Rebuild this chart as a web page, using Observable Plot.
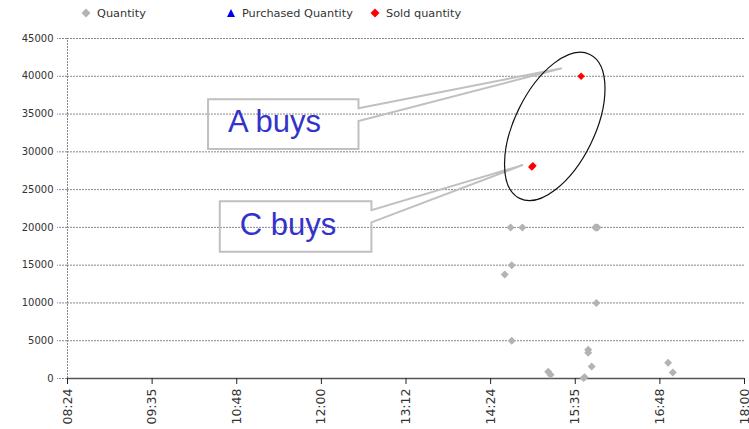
<!DOCTYPE html>
<html><head><meta charset="utf-8">
<script src="https://cdn.jsdelivr.net/npm/d3@7"></script>
<script src="https://cdn.jsdelivr.net/npm/@observablehq/plot@0.6"></script>
<style>
body{margin:0;background:#fff;font-family:"DejaVu Sans",sans-serif;}
#legend{position:relative;height:28px;width:749px;font-size:11.3px;color:#333;}
.item{position:absolute;top:6px;height:14px;display:flex;align-items:center;}
.item svg{margin-right:6px;}
</style></head><body>
<div id="legend"></div>
<div id="chart"></div>
<script>
// ---- data ----
const tickTimes = ["08:24","09:36","10:48","12:00","13:12","14:24","15:36","16:48","18:00"];
const tickLabels = ["08:24","09:35","10:48","12:00","13:12","14:24","15:35","16:48","18:00"];
const yTicks = [0,5000,10000,15000,20000,25000,30000,35000,40000,45000];

const quantityTimes  = ["14:41","14:51","15:53","15:54","15:55","14:42","14:36","15:54","14:42","15:47","15:47","15:50","15:13","15:15","15:44","15:43","16:55","16:59"];
const quantityValues = [20000, 20000, 20000, 20000, 20000, 15000, 13750, 10000, 5000, 3800, 3400, 1600, 900, 500, 150, 50, 2100, 800];

const purchasedTimes  = [];
const purchasedValues = [];

const soldTimes  = ["14:59","15:00","15:41"];
const soldValues = [28000, 28150, 40000];

const seriesNames  = ["Quantity","Purchased Quantity","Sold quantity"];
const seriesColors = ["#b3b3b3","#0000ee","#ff0000"];

// annotations (data units: minutes since midnight, quantity)
const calloutA = {text:"A buys", left:624, right:752, top:36900, bottom:30300, w1:35700, w2:34000, tipX:925, tipY:41000, textX:641, textY:32600};
const calloutC = {text:"C buys", left:634, right:763, top:23400, bottom:16700, w1:22200, w2:20600, tipX:892, tipY:28200, textX:651, textY:18950};
const ellipseSpec = {cx:919, cy:33300, rxMin:34, ryVal:10600, angle:26};

// ---- helpers ----
const toMin = s => { const [h,m] = s.split(":").map(Number); return h*60+m; };
const quantity  = quantityTimes.map((t,i)=>({t:toMin(t), v:quantityValues[i]}));
const purchased = purchasedTimes.map((t,i)=>({t:toMin(t), v:purchasedValues[i]}));
const sold      = soldTimes.map((t,i)=>({t:toMin(t), v:soldValues[i]}));
const tickMins  = tickTimes.map(toMin);
const labelOf   = new Map(tickMins.map((m,i)=>[m, tickLabels[i]]));

// ---- legend ----
const legend = document.getElementById("legend");
const legendX = [81, 226, 370];
const symbols = [
  `<svg width="10" height="10"><path d="M5,0.5L9.5,5L5,9.5L0.5,5Z" fill="${seriesColors[0]}"/></svg>`,
  `<svg width="10" height="10"><path d="M5,1L9,9L1,9Z" fill="${seriesColors[1]}"/></svg>`,
  `<svg width="10" height="10"><path d="M5,0.5L9.5,5L5,9.5L0.5,5Z" fill="${seriesColors[2]}"/></svg>`
];
seriesNames.forEach((n,i)=>{
  const d = document.createElement("div");
  d.className = "item";
  d.style.left = legendX[i] + "px";
  d.innerHTML = symbols[i] + `<span>${n}</span>`;
  legend.appendChild(d);
});

// ---- annotation mark ----
function annotations(index, scales, values, dims) {
  const {x, y} = scales;
  const g = d3.create("svg:g");
  for (const c of [calloutA, calloutC]) {
    const p = [[c.left,c.top],[c.right,c.top],[c.right,c.w1],[c.tipX,c.tipY],[c.right,c.w2],[c.right,c.bottom],[c.left,c.bottom]]
      .map(([a,b])=>[x(a),y(b)]);
    g.append("path").attr("d","M"+p.map(q=>q.join(",")).join("L")+"Z")
      .attr("fill","none").attr("stroke","#c0c0c0").attr("stroke-width",2);
    g.append("text").attr("x",x(c.textX)).attr("y",y(c.textY)).text(c.text)
      .attr("text-anchor","start")
      .attr("fill","#3333cc").attr("font-family","Liberation Sans, Arial, sans-serif")
      .attr("font-size",31);
  }
  const e = ellipseSpec;
  const cx = x(e.cx), cy = y(e.cy);
  const rx = x(e.cx + e.rxMin) - cx, ry = y(e.cy) - y(e.cy + e.ryVal);
  g.append("ellipse").attr("cx",cx).attr("cy",cy).attr("rx",rx).attr("ry",ry)
    .attr("transform",`rotate(${e.angle},${cx},${cy})`)
    .attr("fill","none").attr("stroke","#111").attr("stroke-width",1.2);
  return g.node();
}

const chart = Plot.plot({
  width: 749, height: 401,
  marginTop: 10, marginBottom: 51, marginLeft: 67, marginRight: 5,
  style: {fontFamily: "DejaVu Sans, sans-serif", fontSize: "10px", color: "#333", background: "#fff", overflow: "visible"},
  x: {domain: [tickMins[0], tickMins[tickMins.length-1]]},
  y: {domain: [0, 45000]},
  marks: [
    Plot.gridY(yTicks.filter(d=>d>0), {stroke:"#888", strokeOpacity:1, strokeDasharray:"2,1"}),
    Plot.ruleX([tickMins[0]], {y1:0, y2:45000, stroke:"#888", strokeDasharray:"2,1"}),
    Plot.axisY({ticks: yTicks, tickSize: 10, tickPadding: 4, stroke:"#888", strokeDasharray:"2,1", label:null, tickFormat: d=>String(d), fontSize: 10}),
    Plot.ruleY([0], {stroke:"#555", strokeWidth:1.5}),
    Plot.axisX({ticks: tickMins, tickFormat: d=>labelOf.get(d), tickRotate: -90, tickSize: 6, tickPadding: 4, stroke:"#222", label:null, fontSize: 12.5, letterSpacing: "1px"}),
    Plot.dot(quantity, {x:"t", y:"v", symbol:"diamond2", r:3.6, fill: seriesColors[0]}),
    Plot.dot(purchased, {x:"t", y:"v", symbol:"triangle", r:3.6, fill: seriesColors[1]}),
    Plot.dot(sold, {x:"t", y:"v", symbol:"diamond2", r:3.4, fill: seriesColors[2]}),
    annotations
  ]
});
document.getElementById("chart").appendChild(chart);
</script>
</body></html>
